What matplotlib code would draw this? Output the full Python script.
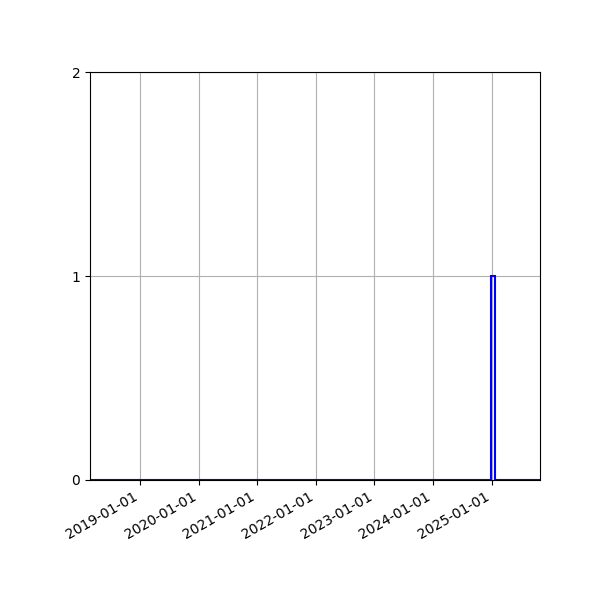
import numpy as np
import matplotlib
matplotlib.use("Agg")
import matplotlib.pyplot as plt
import matplotlib.dates as mdates
from datetime import datetime

# event dates (one event) and the time window of the histogram
event_dates = ["2025-01-01"]
window_start = "2018-02-23"
window_end = "2025-10-29"
n_bins = 100

events = mdates.date2num([datetime.fromisoformat(d) for d in event_dates])
lo = mdates.date2num(datetime.fromisoformat(window_start))
hi = mdates.date2num(datetime.fromisoformat(window_end))
bins = np.linspace(lo, hi, n_bins + 1)

fig, ax = plt.subplots(figsize=(6, 6), dpi=100)
ax.hist(events, bins=bins, histtype="step", color="blue", linewidth=1.5)

ax.set_xlim(lo, hi)
ax.set_ylim(0, 2)
ax.set_yticks([0, 1, 2])
ax.xaxis.set_major_locator(mdates.YearLocator())
ax.xaxis.set_major_formatter(mdates.DateFormatter("%Y-%m-%d"))
ax.grid(True)
ax.set_axisbelow(True)

fig.autofmt_xdate()
fig.subplots_adjust(left=0.15, right=0.9, top=0.88, bottom=0.2)
fig.savefig("out.png")
